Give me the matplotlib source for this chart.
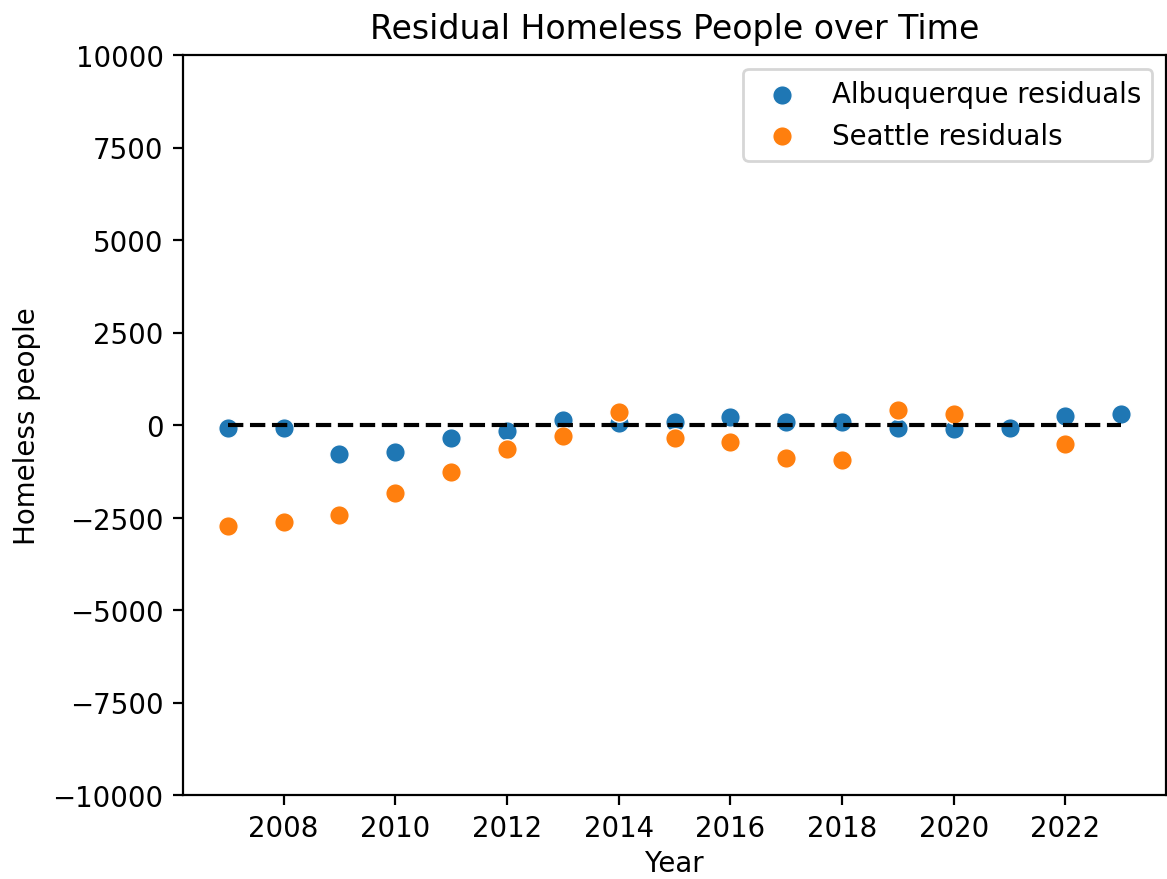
import numpy as np
import matplotlib
matplotlib.use("Agg")
from matplotlib import pyplot as plt

# residuals
years = [2007, 2008, 2009, 2010, 2011, 2012, 2013, 2014, 2015,
         2016, 2017, 2018, 2019, 2020, 2021, 2022, 2023]
abq_resid = [-70, -80, -780, -730, -350, -150, 140, 60, 90,
             210, 90, 90, -90, -110, -90, 250, 300]

sea_years = [2007, 2008, 2009, 2010, 2011, 2012, 2013, 2014, 2015,
             2016, 2017, 2018, 2019, 2020, 2022]
sea_resid = [-2720, -2630, -2420, -1850, -1260, -650, -310, 340, -350,
             -460, -900, -940, 400, 290, -520]

dpi = 199
fig = plt.figure(figsize=(1167/dpi, 880/dpi), dpi=dpi)
ax = fig.add_axes([183/1167, 1 - 796/880, (1166 - 183)/1167, (796 - 56)/880])

ax.scatter(years, abq_resid, s=50, color="#1f77b4", edgecolor="white",
           linewidth=0.5, label="Albuquerque residuals", zorder=2)
ax.scatter(sea_years, sea_resid, s=50, color="#ff7f0e", edgecolor="white",
           linewidth=0.5, label="Seattle residuals", zorder=2)
ax.plot([years[0], years[-1]], [0, 0], "k--", lw=1.5, zorder=3)

ax.set_ylim(-10000, 10000)
ax.set_xticks([2008, 2010, 2012, 2014, 2016, 2018, 2020, 2022])
ax.set_title("Residual Homeless People over Time")
ax.set_xlabel("Year", labelpad=2.5)
ax.set_ylabel("Homeless people")
ax.legend(loc="upper right")

fig.savefig("out.png", dpi=dpi)
